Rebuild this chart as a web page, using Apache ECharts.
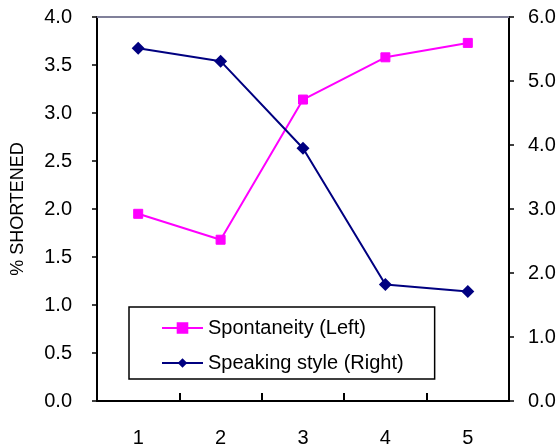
<!DOCTYPE html>
<html>
<head>
<meta charset="utf-8">
<script src="https://cdn.jsdelivr.net/npm/echarts@6/dist/echarts.min.js"></script>
<style>html,body{margin:0;padding:0;background:#fff;}#c{width:559px;height:448px;}</style>
</head>
<body>
<div id="c"></div>
<script>
var categories = ['1', '2', '3', '4', '5'];
var spontaneity = [1.95, 1.68, 3.14, 3.58, 3.73];
var speakingStyle = [5.51, 5.31, 3.95, 1.82, 1.71];
var seriesNames = ['Spontaneity (Left)', 'Speaking style (Right)'];
var leftAxisName = '% SHORTENED';

var chart = echarts.init(document.getElementById('c'), null, {renderer: 'canvas'});
var font = 'Liberation Sans, Arial, sans-serif';
chart.setOption({
  animation: false,
  backgroundColor: '#ffffff',
  grid: {left: 97, right: 50, top: 17, bottom: 47, containLabel: false},
  legend: {
    orient: 'vertical',
    left: 129, top: 307,
    padding: [11, 31, 6, 32],
    borderColor: '#000', borderWidth: 1.5,
    itemWidth: 41, itemHeight: 12, itemGap: 15,
    textStyle: {fontFamily: font, fontSize: 20, color: '#000'},
    data: seriesNames
  },
  xAxis: [{
    type: 'category', data: categories, boundaryGap: true,
    axisLine: {onZero: false, lineStyle: {color: '#000', width: 2}},
    axisTick: {show: true, interval: 0, inside: true, length: 8, lineStyle: {color: '#000', width: 2}},
    axisLabel: {margin: 27, interval: 0, fontFamily: font, fontSize: 20, color: '#000'},
    splitLine: {show: false}, z: 5
  }, {
    type: 'category', data: categories, position: 'top',
    axisLine: {onZero: false, lineStyle: {color: '#80809a', width: 2}},
    axisTick: {show: false}, axisLabel: {show: false}, splitLine: {show: false}
  }],
  yAxis: [{
    type: 'value', min: 0, max: 4, interval: 0.5, position: 'left',
    name: leftAxisName, nameLocation: 'middle', nameRotate: 90, nameGap: 70,
    nameTextStyle: {fontFamily: font, fontSize: 18, color: '#000'},
    axisLine: {show: true, onZero: false, lineStyle: {color: '#000', width: 2}},
    axisTick: {show: true, length: 5, lineStyle: {color: '#000', width: 1.5}},
    axisLabel: {margin: 25, fontFamily: font, fontSize: 20, color: '#000', formatter: function (v) { return v.toFixed(1); }},
    splitLine: {show: false}
  }, {
    type: 'value', min: 0, max: 6, interval: 1, position: 'right',
    axisLine: {show: true, onZero: false, lineStyle: {color: '#000', width: 2}},
    axisTick: {show: true, length: 5, lineStyle: {color: '#000', width: 1.5}},
    axisLabel: {margin: 19, fontFamily: font, fontSize: 20, color: '#000', formatter: function (v) { return v.toFixed(1); }},
    splitLine: {show: false}
  }],
  series: [{
    name: seriesNames[0], type: 'line', yAxisIndex: 0, data: spontaneity,
    symbol: 'rect', symbolSize: 9,
    lineStyle: {color: '#ff00ff', width: 2},
    itemStyle: {color: '#ff00ff', borderColor: '#ff00ff', borderWidth: 1}
  }, {
    name: seriesNames[1], type: 'line', yAxisIndex: 1, data: speakingStyle,
    symbol: 'diamond', symbolSize: 13,
    lineStyle: {color: '#000080', width: 2},
    itemStyle: {color: '#000080'}
  }]
});
</script>
</body>
</html>
